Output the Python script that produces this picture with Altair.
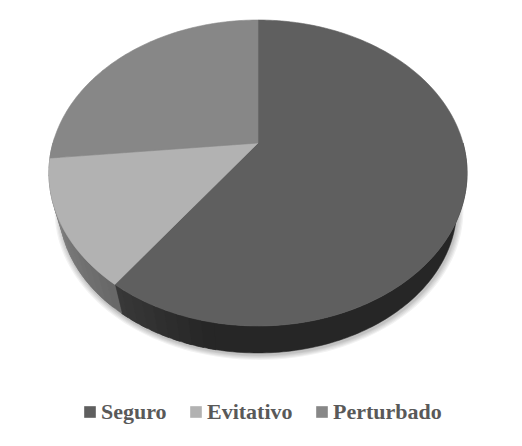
import math
import altair as alt
import pandas as pd

categories = ["Seguro", "Evitativo", "Perturbado"]
shares = [60.0, 13.4, 26.6]
face_colors = ["#5f5f5f", "#b2b2b2", "#878787"]
wall_light = ["#3a3a3a", "#686868"]
wall_dark = ["#262626", "#929292"]

K = 0.196
A, B = 205.0, 147.1
CX, CY = 258.0, 143.0
S, Y2 = 0.951, 179.0


def project(theta, scale=1.0, cy=CY, cx=CX):
    u, v = math.sin(theta), math.cos(theta)
    d = 1 + K * v
    return cx + scale * A * u / d, cy - scale * B * v / d


def mix(c1, c2, t):
    a = [int(c1[i:i + 2], 16) for i in (1, 3, 5)]
    b = [int(c2[i:i + 2], 16) for i in (1, 3, 5)]
    return "#" + "".join(f"{round(p + (q - p) * t):02x}" for p, q in zip(a, b))


faces, walls, shadow = [], [], []
total = sum(shares)
start = 0.0
bounds = []
for cat, share in zip(categories, shares):
    end = start + share / total * 360
    bounds.append((start, end))
    x, y = project(0, 0)
    pts = [(x, y)]
    n = int(end - start) + 1
    for i in range(n + 1):
        pts.append(project(math.radians(start + (end - start) * i / n)))
    pts.append((x, y))
    for i, (px, py) in enumerate(pts):
        faces.append({"cat": cat, "i": i, "x": px, "y": py})
    start = end

boundary = bounds[0][1]


def add_wall(seg, d0, d1, col):
    n = max(1, int(d1 - d0))
    angles = [math.radians(d0 + (d1 - d0) * j / n) for j in range(n + 1)]
    ring = [project(a) for a in angles] + [project(a, S, Y2) for a in reversed(angles)]
    ring.append(ring[0])
    for i, (px, py) in enumerate(ring):
        walls.append({"seg": seg, "i": i, "x": px, "y": py, "col": col})


seg = 0
add_wall(seg, 90, 192, wall_dark[0])
seg += 1
deg = 190.0
while deg < boundary:
    t = (deg - 190) / (boundary - 190)
    add_wall(seg, deg, min(deg + 5, boundary), mix(wall_dark[0], wall_light[0], t))
    seg += 1
    deg += 3
deg = boundary
while deg < 270:
    t = (deg - boundary) / (270 - boundary)
    add_wall(seg, deg, min(deg + 6, 272), mix(wall_light[1], wall_dark[1], t))
    seg += 1
    deg += 3

for level, sc in enumerate([0.978, 0.972, 0.966, 0.960, 0.955]):
    for i in range(181):
        px, py = project(math.radians(i * 2), sc, Y2 + 2, CX + 1)
        shadow.append({"lvl": level, "i": i, "x": px, "y": py})

xs = alt.Scale(domain=[8, 514], nice=False, zero=False)
ys = alt.Scale(domain=[438, 8], nice=False, zero=False)
X = alt.X("x:Q", scale=xs, axis=None)
Y = alt.Y("y:Q", scale=ys, axis=None)

shadow_layer = alt.Chart(pd.DataFrame(shadow)).mark_line(
    fill="#000000", fillOpacity=0.05, strokeOpacity=0, strokeWidth=0
).encode(x=X, y=Y, detail="lvl:N", order="i:Q")

wall_layer = alt.Chart(pd.DataFrame(walls)).mark_line(strokeWidth=0.5).encode(
    x=X, y=Y, detail="seg:N", order="i:Q",
    fill=alt.Fill("col:N", scale=None),
    stroke=alt.Stroke("col:N", scale=None),
)

legend = alt.Legend(
    title=None, orient="none", legendX=71, legendY=393, direction="horizontal",
    columns=3, symbolType="square", symbolSize=135, symbolStrokeWidth=0,
    labelFont="Liberation Serif", labelFontWeight="bold", labelFontSize=22,
    labelColor="#595959", columnPadding=18, labelOffset=0, symbolOpacity=1,
)

face_layer = alt.Chart(pd.DataFrame(faces)).mark_line(strokeWidth=0.6).encode(
    x=X, y=Y, order="i:Q", detail="cat:N",
    fill=alt.Fill("cat:N", scale=alt.Scale(domain=categories, range=face_colors), legend=legend),
    stroke=alt.Stroke("cat:N", scale=alt.Scale(domain=categories, range=face_colors), legend=None),
)

chart = alt.layer(shadow_layer, wall_layer, face_layer).resolve_scale(
    fill="independent", stroke="independent"
).properties(
    width=506, height=430, padding=0, autosize=alt.AutoSizeParams(type="none")
).configure_view(stroke=None)

chart.save("out.html", embed_options={"renderer": "svg", "actions": False})
